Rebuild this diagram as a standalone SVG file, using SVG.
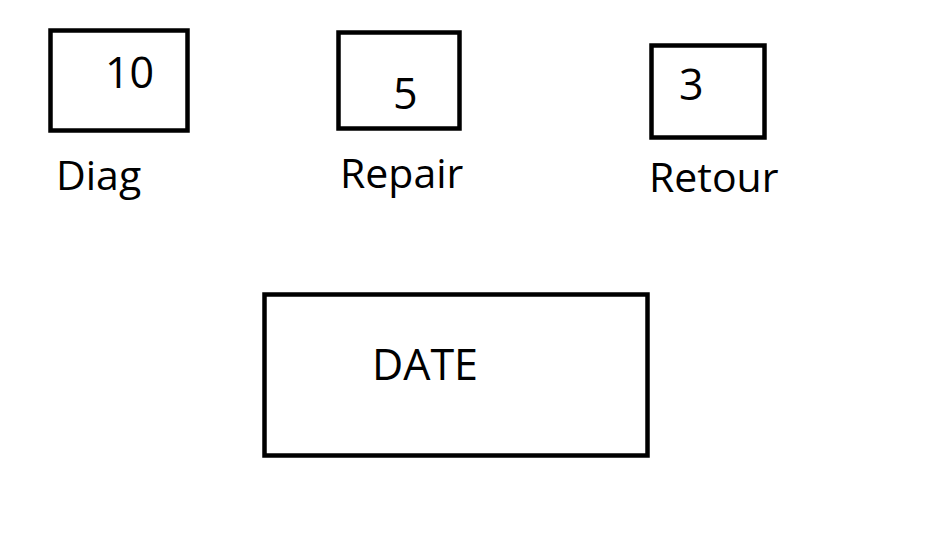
<svg xmlns="http://www.w3.org/2000/svg" width="936" height="535" viewBox="0 0 936 535">
<style>
.box{fill:none;stroke:#000;stroke-width:4.5}
.num{font-family:"Open Sans","Liberation Sans",sans-serif;font-size:43px;fill:#000}
.lbl{font-family:"Open Sans","Liberation Sans",sans-serif;font-size:41px;fill:#000}
</style>
<rect width="936" height="535" fill="#fff"/>
<g id="diag">
<rect class="box" x="50.5" y="30.5" width="137" height="100"/>
<text class="num" x="105" y="88">10</text>
<text class="lbl" x="56" y="190">Diag</text>
</g>
<g id="repair">
<rect class="box" x="338.5" y="32.5" width="121" height="96"/>
<text class="num" x="393" y="109">5</text>
<text class="lbl" x="340" y="188">Repair</text>
</g>
<g id="retour">
<rect class="box" x="651.5" y="45.5" width="113" height="92"/>
<text class="num" x="679" y="100">3</text>
<text class="lbl" x="649" y="192">Retour</text>
</g>
<g id="date">
<rect class="box" x="264.5" y="294.5" width="383" height="161"/>
<text class="num" x="372" y="380">DATE</text>
</g>
<g id="connectors"/>
</svg>
